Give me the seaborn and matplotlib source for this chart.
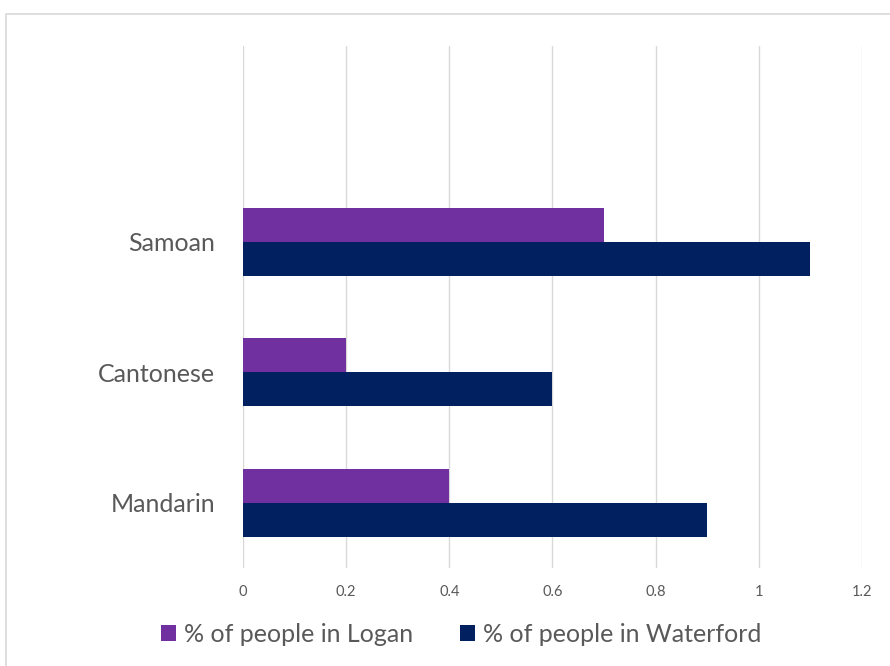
import pandas as pd
import matplotlib.pyplot as plt
import seaborn as sns
from matplotlib.patches import Rectangle

languages = ['Samoan', 'Cantonese', 'Mandarin']
logan = [0.7, 0.2, 0.4]
waterford = [1.1, 0.6, 0.9]
series_names = ['% of people in Logan', '% of people in Waterford']
xticks = [0, 0.2, 0.4, 0.6, 0.8, 1.0, 1.2]
xtick_labels = ['0', '0.2', '0.4', '0.6', '0.8', '1', '1.2']

df = pd.DataFrame({
    'Language': languages * 2,
    'Value': logan + waterford,
    'Series': [series_names[0]] * 3 + [series_names[1]] * 3,
})

sns.set_style('white')
plt.rcParams['font.family'] = ['Lato', 'DejaVu Sans']

fig = plt.figure(figsize=(8.9, 6.66), dpi=100)
ax = fig.add_axes([0.273, 0.147, 0.6955, 0.784])

sns.barplot(data=df, y='Language', x='Value', hue='Series', orient='h',
            order=languages, hue_order=series_names,
            palette=['#7030A0', '#002060'], width=0.52, saturation=1,
            linewidth=0, ax=ax)

ax.set_xlim(0, 1.2)
ax.set_ylim(2.5, -1.5)
ax.set_xticks(xticks)
ax.set_xticklabels(xtick_labels)
ax.grid(axis='x', color='#d9d9d9', linewidth=1)
ax.grid(axis='y', visible=False)
ax.set_axisbelow(True)
for s in ax.spines.values():
    s.set_visible(False)
ax.tick_params(axis='x', length=0, pad=12, labelsize=10.5, labelcolor='#595959')
ax.tick_params(axis='y', length=0, pad=20, labelsize=18, labelcolor='#595959')
ax.set_xlabel('')
ax.set_ylabel('')

handles, labels = ax.get_legend_handles_labels()
ax.get_legend().remove()
fig.legend(handles, labels, loc='center', bbox_to_anchor=(0.518, 0.047),
           ncol=2, frameon=False, fontsize=18, labelcolor='#595959',
           handlelength=0.6, handleheight=0.6, handletextpad=0.3,
           columnspacing=1.9)

fig.patches.append(Rectangle((6 / 890, -0.1), 1.1, 1 - 14 / 666 + 0.1,
                             transform=fig.transFigure, fill=False,
                             edgecolor='#d9d9d9', linewidth=1.2))

fig.savefig('out.png', dpi=100)
